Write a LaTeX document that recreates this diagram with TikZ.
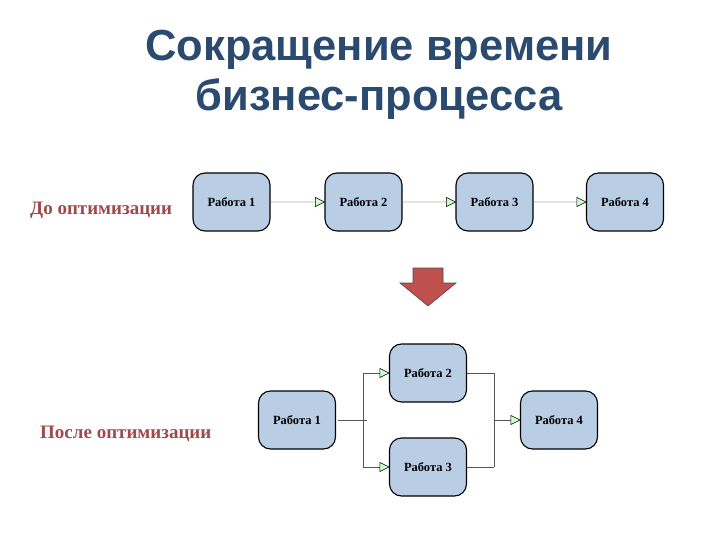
\documentclass[tikz,border=0pt]{standalone}
\usepackage{fontspec}
\setmainfont{Liberation Serif}
\newfontfamily\titlefont{Liberation Sans}
\usetikzlibrary{arrows.meta}
\definecolor{titleblue}{HTML}{2B4A6F}
\definecolor{labred}{HTML}{A0484A}
\definecolor{boxfill}{HTML}{B9CDE5}
\definecolor{headgreen}{HTML}{CCFFCC}
\definecolor{arrred}{HTML}{C0504D}
\definecolor{arrline}{HTML}{E4E4E0}
\definecolor{flowline}{HTML}{555555}
\tikzset{
  work/.style={draw=black, line width=1.1pt, fill=boxfill, rounded corners=12pt, minimum width=77pt, minimum height=58pt, font=\bfseries\fontsize{12.5}{14}\selectfont, inner sep=0pt},
  lowflow/.style={draw=flowline, line width=1pt},
  sectlabel/.style={text=labred, font=\bfseries\fontsize{19}{22}\selectfont, anchor=west, inner sep=0pt},
}
\begin{document}
\begin{tikzpicture}[x=1pt,y=-1pt]
\useasboundingbox (0,0) rectangle (720,540);
\node[text=titleblue, font=\titlefont\bfseries\fontsize{43.5}{50}\selectfont, align=center] (title) at (379,75) {Сокращение времени\\бизнес-процесса};

\node[sectlabel] (before) at (30,210) {До оптимизации};
\node[sectlabel] (after) at (40,434) {После оптимизации};

% top row
\node[work] (a1) at (231.5,202) {Работа 1};
\node[work] (a2) at (363.5,202) {Работа 2};
\node[work] (a3) at (494.5,202) {Работа 3};
\node[work] (a4) at (625,202) {Работа 4};
\foreach \s/\t in {a1/a2,a2/a3,a3/a4}{
  \draw[arrline, line width=1.6pt] (\s.east) -- ([xshift=-9pt]\t.west);
  \draw[black, line width=0.5pt, fill=headgreen] ([xshift=-9pt,yshift=-4.5pt]\t.west) -- (\t.west) -- ([xshift=-9pt,yshift=4.5pt]\t.west) -- cycle;
}

% red arrow
\draw[fill=arrred, draw=black!70, line width=0.6pt] (413,268) -- (443,268) -- (443,283) -- (456,283) -- (428,306) -- (400,283) -- (413,283) -- cycle;

% bottom
\node[work] (b1) at (297,420) {Работа 1};
\node[work] (b2) at (428,373) {Работа 2};
\node[work] (b3) at (428,467) {Работа 3};
\node[work] (b4) at (559,420) {Работа 4};
\coordinate (split) at (363,420);
\coordinate (join) at (494,420);
\draw[lowflow] ([xshift=2pt]b1.east) -- ([xshift=4pt]split);
\draw[lowflow] (split |- b2) -- (split |- b3);
\draw[lowflow] (join |- b2) -- (join |- b3);
\draw[lowflow] (b2.east) -- (join |- b2);
\draw[lowflow] (b3.east) -- (join |- b3);
\foreach \s/\t in {split/b2,split/b3,join/b4}{
  \draw[lowflow] (\s |- \t) -- ([xshift=-9pt]\t.west);
  \draw[black, line width=0.5pt, fill=headgreen] ([xshift=-9pt,yshift=-4.5pt]\t.west) -- (\t.west) -- ([xshift=-9pt,yshift=4.5pt]\t.west) -- cycle;
}
\end{tikzpicture}
\end{document}
